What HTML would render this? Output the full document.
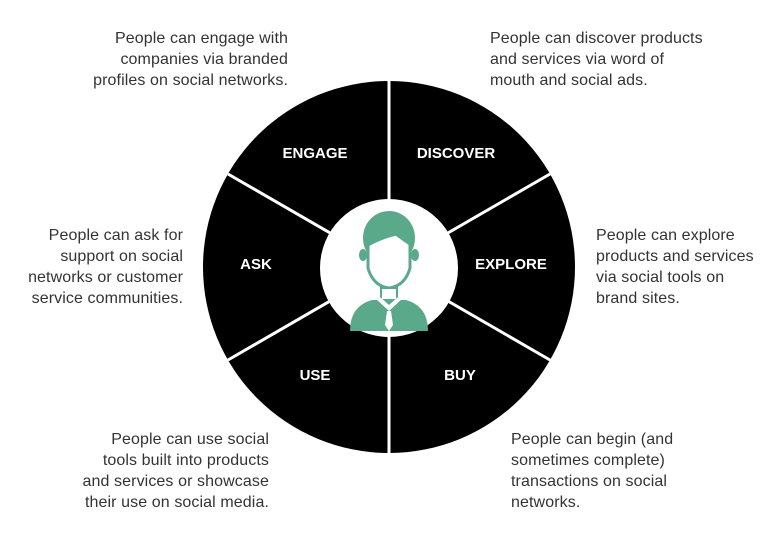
<!DOCTYPE html>
<html><head><meta charset="utf-8"><style>
body{margin:0;width:782px;height:542px;background:#fff;position:relative;overflow:hidden;font-family:"Liberation Sans",sans-serif}
.t{position:absolute;font-size:16px;line-height:21px;color:#333;white-space:nowrap;letter-spacing:0.1px}
.r{text-align:right}
</style></head><body>
<svg width="782" height="542" style="position:absolute;left:0;top:0">
<circle cx="389" cy="267" r="186" fill="#000"/>
<g stroke="#fff" stroke-width="3">
<line x1="389" y1="81" x2="389" y2="453"/>
<line x1="228" y1="174" x2="550" y2="360"/>
<line x1="228" y1="360" x2="550" y2="174"/>
</g>
<circle cx="389" cy="268" r="69" fill="#fff"/>
<g fill="#5aa98a">
<path d="M350 331 Q350 306 372 300 L406 300 Q428 306 428 331 Z"/>
<ellipse cx="389" cy="238" rx="26" ry="27"/>
<ellipse cx="363" cy="255" rx="4" ry="6"/><ellipse cx="415" cy="255" rx="4" ry="6"/>
<rect x="380" y="285" width="18" height="16"/>
</g>
<path d="M368 245 Q380 238 396 234 Q404 240 410 244 L410 268 Q405 286 389 288 Q373 286 368 268 Z" fill="#fff" stroke="#5aa98a" stroke-width="3"/>
<rect x="382" y="289" width="14" height="10" fill="#fff"/>
<path d="M376 299 L389 311 L402 299 L398 297 L389 305 L380 297Z" fill="#fff"/>
<path d="M387 311 L391 311 L393 325 L389 331 L385 325Z" fill="#fff"/>
<g fill="#fff" font-family="Liberation Sans,sans-serif" font-weight="bold" font-size="15" text-anchor="middle">
<text x="315" y="158">ENGAGE</text>
<text x="456" y="158">DISCOVER</text>
<text x="256" y="269">ASK</text>
<text x="511" y="269">EXPLORE</text>
<text x="315" y="380">USE</text>
<text x="460" y="380">BUY</text>
</g>
</svg>
<div class="t r" style="right:494px;top:28px">People can engage with<br>companies via branded<br>profiles on social networks.</div>
<div class="t" style="left:490px;top:28px">People can discover products<br>and services via word of<br>mouth and social ads.</div>
<div class="t r" style="right:599px;top:225px">People can ask for<br>support on social<br>networks or customer<br>service communities.</div>
<div class="t" style="left:596px;top:225px">People can explore<br>products and services<br>via social tools on<br>brand sites.</div>
<div class="t r" style="right:513px;top:429px">People can use social<br>tools built into products<br>and services or showcase<br>their use on social media.</div>
<div class="t" style="left:511px;top:429px">People can begin (and<br>sometimes complete)<br>transactions on social<br>networks.</div>
</body></html>
